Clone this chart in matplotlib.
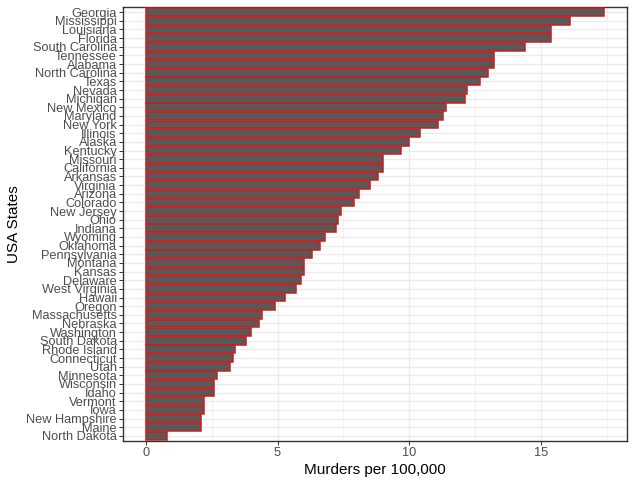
import numpy as np
import matplotlib.pyplot as plt

plt.rcParams['font.family'] = ['Liberation Sans', 'DejaVu Sans']

states = ["Alabama", "Alaska", "Arizona", "Arkansas", "California", "Colorado",
          "Connecticut", "Delaware", "Florida", "Georgia", "Hawaii", "Idaho",
          "Illinois", "Indiana", "Iowa", "Kansas", "Kentucky", "Louisiana",
          "Maine", "Maryland", "Massachusetts", "Michigan", "Minnesota",
          "Mississippi", "Missouri", "Montana", "Nebraska", "Nevada",
          "New Hampshire", "New Jersey", "New Mexico", "New York",
          "North Carolina", "North Dakota", "Ohio", "Oklahoma", "Oregon",
          "Pennsylvania", "Rhode Island", "South Carolina", "South Dakota",
          "Tennessee", "Texas", "Utah", "Vermont", "Virginia", "Washington",
          "West Virginia", "Wisconsin", "Wyoming"]
murder = [13.2, 10.0, 8.1, 8.8, 9.0, 7.9, 3.3, 5.9, 15.4, 17.4, 5.3, 2.6,
          10.4, 7.2, 2.2, 6.0, 9.7, 15.4, 2.1, 11.3, 4.4, 12.1, 2.7, 16.1,
          9.0, 6.0, 4.3, 12.2, 2.1, 7.4, 11.4, 11.1, 13.0, 0.8, 7.3, 6.6,
          4.9, 6.3, 3.4, 14.4, 3.8, 13.2, 12.7, 3.2, 2.2, 8.5, 4.0, 5.7,
          2.6, 6.8]

# ascending order, smallest at bottom (stable sort keeps ties alphabetical)
order = np.argsort(murder, kind="stable")
names = [states[i] for i in order]
vals = np.array([murder[i] for i in order])
ypos = np.arange(len(names))

fig = plt.figure(figsize=(6.34, 4.84), dpi=100)
ax = fig.add_axes([0.194, 0.0888, 0.795, 0.8967])

ax.barh(ypos, vals, height=0.9, color="#595959", edgecolor="#C81E1E",
        linewidth=1.1, zorder=3)

xmax = vals.max()
ax.set_xlim(-0.05 * xmax, 1.05 * xmax)
ax.set_ylim(-0.6, len(names) - 0.4)
ax.set_yticks(ypos)
ax.set_yticklabels(names)
ax.set_xticks([0, 5, 10, 15])
ax.set_xticks([2.5, 7.5, 12.5, 17.5], minor=True)

ax.grid(True, which="major", color="#EBEBEB", linewidth=0.9, zorder=0)
ax.grid(True, which="minor", axis="x", color="#EBEBEB", linewidth=0.5, zorder=0)
ax.tick_params(axis="both", which="major", labelsize=9.2, labelcolor="#4D4D4D",
               color="#333333", length=3, width=0.7, pad=1.5)
ax.tick_params(axis="x", which="minor", length=0)
for s in ax.spines.values():
    s.set_color("#333333")
    s.set_linewidth(1.0)

ax.set_xlabel("Murders per 100,000", fontsize=11, labelpad=3)
ax.set_ylabel("USA States", fontsize=11, labelpad=4)

fig.savefig("out.png", dpi=100)
